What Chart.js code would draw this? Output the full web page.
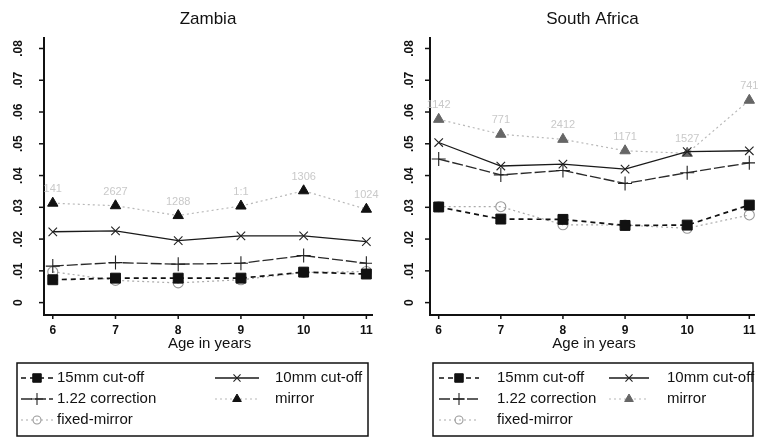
<!DOCTYPE html>
<html>
<head>
<meta charset="utf-8">
<script src="https://cdn.jsdelivr.net/npm/chart.js@4.4.0/dist/chart.umd.min.js"></script>
<style>
  html, body { margin: 0; padding: 0; background: #fff; }
  #wrap { position: relative; width: 763px; height: 438px; }
  .panel { position: absolute; top: 0; height: 438px; }
  #left { left: 0; width: 381px; }
  #right { left: 381px; width: 382px; }
</style>
</head>
<body>
<div id="wrap">
  <div class="panel" id="left"><canvas id="cZambia" width="381" height="438"></canvas></div>
  <div class="panel" id="right"><canvas id="cSouthAfrica" width="382" height="438"></canvas></div>
</div>
<script>
// --- data ---
const ages = [6, 7, 8, 9, 10, 11];
const yTicks = [0, 0.01, 0.02, 0.03, 0.04, 0.05, 0.06, 0.07, 0.08];
const yTickLabels = ['0', '.01', '.02', '.03', '.04', '.05', '.06', '.07', '.08'];
const seriesNames = ['15mm cut-off', '10mm cut-off', '1.22 correction', 'mirror', 'fixed-mirror'];

const zambia15mm = [0.0072, 0.0077, 0.0077, 0.0077, 0.0096, 0.0090];
const zambia10mm = [0.0223, 0.0226, 0.0195, 0.0210, 0.0210, 0.0192];
const zambia122 = [0.0115, 0.0126, 0.0121, 0.0124, 0.0148, 0.0124];
const zambiaMirror = [0.0313, 0.0305, 0.0274, 0.0304, 0.0352, 0.0294];
const zambiaFixed = [0.0097, 0.0070, 0.0062, 0.0072, 0.0095, 0.0098];
const zambiaN = ['141', '2627', '1288', '1:1', '1306', '1024'];

const saf15mm = [0.0301, 0.0263, 0.0262, 0.0243, 0.0244, 0.0307];
const saf10mm = [0.0504, 0.0430, 0.0436, 0.0420, 0.0475, 0.0478];
const saf122 = [0.0452, 0.0402, 0.0416, 0.0375, 0.0409, 0.0440];
const safMirror = [0.0577, 0.0530, 0.0514, 0.0478, 0.0470, 0.0637];
const safFixed = [0.0302, 0.0302, 0.0245, 0.0244, 0.0234, 0.0276];
const safN = ['1142', '771', '2412', '1171', '1527', '741'];

const FONT = "'Liberation Sans', Arial, Helvetica, sans-serif";

const toXY = (vals) => ages.map((a, i) => ({ x: a, y: vals[i] }));

function makeDatasets(s15, s10, s122, sMirror, sFixed, mirrorFill) {
  return [
    {
      label: seriesNames[0], data: toXY(s15),
      borderColor: '#111', borderWidth: 1.7, borderDash: [5, 4],
      pointStyle: 'rect', pointRadius: 7, pointBackgroundColor: '#111', pointBorderColor: '#111', pointBorderWidth: 1
    },
    {
      label: seriesNames[1], data: toXY(s10),
      borderColor: '#1a1a1a', borderWidth: 1.3, borderDash: [],
      pointStyle: 'crossRot', pointRadius: 6, pointBorderColor: '#222', pointBorderWidth: 1.1
    },
    {
      label: seriesNames[2], data: toXY(s122),
      borderColor: '#2a2a2a', borderWidth: 1.3, borderDash: [11, 3],
      pointStyle: 'cross', pointRadius: 7, pointBorderColor: '#222', pointBorderWidth: 1.1
    },
    {
      label: seriesNames[3], data: toXY(sMirror),
      borderColor: '#b8b8b8', borderWidth: 1.2, borderDash: [2, 3],
      pointStyle: 'triangle', pointRadius: 6, pointBackgroundColor: mirrorFill, pointBorderColor: mirrorFill, pointBorderWidth: 1
    },
    {
      label: seriesNames[4], data: toXY(sFixed),
      borderColor: '#aaa', borderWidth: 1.2, borderDash: [2, 3],
      pointStyle: 'circle', pointRadius: 5, pointBackgroundColor: 'rgba(0,0,0,0)', pointBorderColor: '#999', pointBorderWidth: 1.1
    }
  ];
}

// draws title, ticks, tick labels, axis title, faint counts and the boxed legend
const stataDecor = {
  id: 'stataDecor',
  afterDraw(chart, args, opts) {
    const { ctx, chartArea } = chart;
    const xs = chart.scales.x;
    const ys = chart.scales.y;
    ctx.save();
    ctx.fillStyle = '#111';
    ctx.strokeStyle = '#111';

    // title
    ctx.font = `17px ${FONT}`;
    ctx.textAlign = 'center';
    ctx.textBaseline = 'middle';
    ctx.fillText(opts.title, (chartArea.left + chartArea.right) / 2, 19);

    // y ticks + rotated labels
    ctx.lineWidth = 1.5;
    ctx.font = `bold 12px ${FONT}`;
    yTicks.forEach((v, i) => {
      const py = ys.getPixelForValue(v);
      ctx.beginPath();
      ctx.moveTo(chartArea.left - 5, py);
      ctx.lineTo(chartArea.left, py);
      ctx.stroke();
      ctx.save();
      ctx.translate(chartArea.left - opts.yLabelOffset, py);
      ctx.rotate(-Math.PI / 2);
      ctx.textAlign = 'center';
      ctx.textBaseline = 'middle';
      ctx.fillText(yTickLabels[i], 0, 0);
      ctx.restore();
    });

    // x ticks + labels
    ctx.font = `bold 12px ${FONT}`;
    ctx.textAlign = 'center';
    ctx.textBaseline = 'middle';
    ages.forEach((a) => {
      const px = xs.getPixelForValue(a);
      ctx.beginPath();
      ctx.moveTo(px, chartArea.bottom);
      ctx.lineTo(px, chartArea.bottom + 4);
      ctx.stroke();
      ctx.fillText(String(a), px, chartArea.bottom + 16);
    });
    ctx.font = `15px ${FONT}`;
    ctx.fillText('Age in years', (xs.getPixelForValue(8) + xs.getPixelForValue(9)) / 2, chartArea.bottom + 29);

    // faint counts above the mirror markers
    ctx.fillStyle = '#c9c9c9';
    ctx.font = `11px ${FONT}`;
    const mirrorMeta = chart.getDatasetMeta(3);
    mirrorMeta.data.forEach((pt, i) => {
      ctx.fillText(opts.counts[i], pt.x, pt.y - 14);
    });

    // legend
    const L = opts.legend;
    ctx.strokeStyle = '#111';
    ctx.lineWidth = 1.5;
    ctx.strokeRect(L.x, L.y, L.w, L.h);
    const cells = [
      [0, 0, 0], [1, 1, 0], [2, 0, 1], [3, 1, 1], [4, 0, 2]
    ];
    cells.forEach(([di, col, row]) => {
      const ds = chart.data.datasets[di];
      const sx = L.x + L.sym[col];
      const cy = L.y + L.rowY[row];
      ctx.save();
      ctx.strokeStyle = ds.borderColor;
      ctx.lineWidth = ds.borderWidth;
      ctx.setLineDash(ds.borderDash || []);
      ctx.beginPath();
      ctx.moveTo(sx, cy);
      ctx.lineTo(sx + L.symW[col], cy);
      ctx.stroke();
      ctx.setLineDash([]);
      ctx.fillStyle = ds.pointBackgroundColor || 'rgba(0,0,0,0)';
      ctx.strokeStyle = ds.pointBorderColor;
      ctx.lineWidth = ds.pointBorderWidth;
      Chart.helpers.drawPoint(ctx, {
        pointStyle: ds.pointStyle, radius: ds.pointRadius - 1, rotation: 0, borderWidth: ds.pointBorderWidth
      }, sx + L.symW[col] / 2, cy);
      ctx.restore();
      ctx.fillStyle = '#111';
      ctx.font = `15px ${FONT}`;
      ctx.textAlign = 'left';
      ctx.textBaseline = 'middle';
      ctx.fillText(ds.label, L.x + L.txt[col], cy);
    });
    ctx.restore();
  }
};

function makeChart(id, datasets, pad, decor) {
  return new Chart(document.getElementById(id), {
    type: 'line',
    data: { datasets },
    options: {
      responsive: false,
      animation: false,
      layout: { padding: pad },
      plugins: {
        legend: { display: false },
        tooltip: { enabled: false },
        stataDecor: decor
      },
      elements: { line: { tension: 0 } },
      scales: {
        x: {
          type: 'linear', min: 5.86, max: 11.09,
          ticks: { display: false },
          grid: { display: false, drawTicks: false },
          border: { display: true, color: '#111', width: 2 }
        },
        y: {
          min: -0.0039, max: 0.0833,
          ticks: { display: false },
          grid: { display: false, drawTicks: false },
          border: { display: true, color: '#111', width: 2 }
        }
      }
    },
    plugins: [stataDecor]
  });
}

makeChart('cZambia',
  makeDatasets(zambia15mm, zambia10mm, zambia122, zambiaMirror, zambiaFixed, '#111'),
  { left: 44, right: 9, top: 38, bottom: 123 },
  {
    title: 'Zambia', counts: zambiaN, yLabelOffset: 25,
    legend: { x: 17, y: 363, w: 351, h: 73, rowY: [15, 36, 57], sym: [4, 198], symW: [32, 44], txt: [40, 258] }
  });

makeChart('cSouthAfrica',
  makeDatasets(saf15mm, saf10mm, saf122, safMirror, safFixed, '#666'),
  { left: 49, right: 5, top: 38, bottom: 123 },
  {
    title: 'South Africa', counts: safN, yLabelOffset: 20,
    legend: { x: 52, y: 363, w: 320, h: 73, rowY: [15, 36, 57], sym: [6, 176], symW: [40, 40], txt: [64, 234] }
  });
</script>
</body>
</html>
